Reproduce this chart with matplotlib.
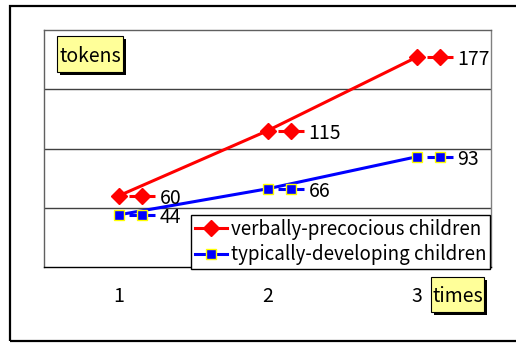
import matplotlib
matplotlib.use("Agg")
import matplotlib.pyplot as plt
from matplotlib.patches import Rectangle
from matplotlib.transforms import offset_copy

plt.rcParams['font.family'] = ['Noto Sans CJK KR', 'DejaVu Sans']

times = [1, 2, 3]
verbal = [60, 115, 177]
typical = [44, 66, 93]
series_names = ["verbally-precocious children", "typically-developing children"]

W, H = 516, 343
fig = plt.figure(figsize=(W / 100, H / 100), dpi=100)


def px_rect(x0, y0, x1, y1):
    # pixel box measured from the top-left corner -> figure fraction
    return x0 / W, 1 - y1 / H, (x1 - x0) / W, (y1 - y0) / H


def shifted(dx):
    return offset_copy(ax.transData, fig=fig, x=dx, y=0, units='dots')


# outer chart frame
fx, fy, fw, fh = px_rect(10, 6, 522, 341)
fig.patches.append(Rectangle((fx, fy), fw, fh, transform=fig.transFigure,
                             fill=False, ec='black', lw=1.6))

ax = fig.add_axes(px_rect(44, 30, 491, 267))
ax.set_xlim(0.5, 3.5)
ax.set_ylim(0, 200)
ax.set_yticks([50, 100, 150])
ax.yaxis.grid(True, color='#404040', lw=1)
ax.tick_params(axis='y', length=0, labelleft=False)
ax.set_xticks(times)
ax.set_xticklabels([str(t) for t in times], fontsize=14)
ax.tick_params(axis='x', length=0, pad=14)
for side, col in [('left', '#606060'), ('top', '#606060'),
                  ('right', '#808080'), ('bottom', 'black')]:
    ax.spines[side].set_color(col)
    ax.spines[side].set_linewidth(1)

styles = [
    dict(color='red', marker='D', ms=8, mfc='red', mec='red', mew=1, lw=2.2),
    dict(color='blue', marker='s', ms=7, mfc='blue', mec='#ffff00', mew=1, lw=2.2),
]

handles = []
for vals, name, st in zip([verbal, typical], series_names, styles):
    h, = ax.plot(times, vals, label=name, clip_on=False, zorder=3, **st)
    handles.append(h)
    # value labels carry a small legend key in front of the number
    for x, v in zip(times, vals):
        ax.plot([x], [v], transform=shifted(23), linestyle='none',
                marker='_', ms=19, mew=st['lw'], color=st['color'],
                clip_on=False, zorder=3)
        ax.plot([x], [v], transform=shifted(23), linestyle='none',
                marker=st['marker'], ms=st['ms'], mfc=st['mfc'],
                mec=st['mec'], mew=st['mew'], clip_on=False, zorder=4)
        ax.text(x, v, str(v), transform=shifted(41), fontsize=14, ha='left',
                va='center_baseline', clip_on=False, zorder=5)

leg = fig.legend(handles=handles, loc='lower right',
                 bbox_to_anchor=(490 / W, 1 - 269 / H),
                 bbox_transform=fig.transFigure, fontsize=13.5,
                 frameon=True, fancybox=False, framealpha=1,
                 edgecolor='black', borderaxespad=0, borderpad=0.2,
                 handlelength=1.7, handletextpad=0.2, labelspacing=0.25)
leg.get_frame().set_linewidth(1)


def label_box(x0, y0, x1, y1, text):
    sx, sy, sw, sh = px_rect(x0 + 3, y0 + 3, x1 + 3, y1 + 3)
    fig.patches.append(Rectangle((sx, sy), sw, sh, transform=fig.transFigure,
                                 fc='black', ec='none', zorder=5))
    bx, by, bw, bh = px_rect(x0, y0, x1, y1)
    fig.patches.append(Rectangle((bx, by), bw, bh, transform=fig.transFigure,
                                 fc='#ffff99', ec='black', lw=0.8, zorder=6))
    fig.text(bx + bw / 2, by + bh / 2, text, fontsize=14, ha='center',
             va='center_baseline', zorder=7)


label_box(57, 36, 123, 72, "tokens")
label_box(431, 277, 484, 312, "times")

fig.savefig("out.png", dpi=100)
